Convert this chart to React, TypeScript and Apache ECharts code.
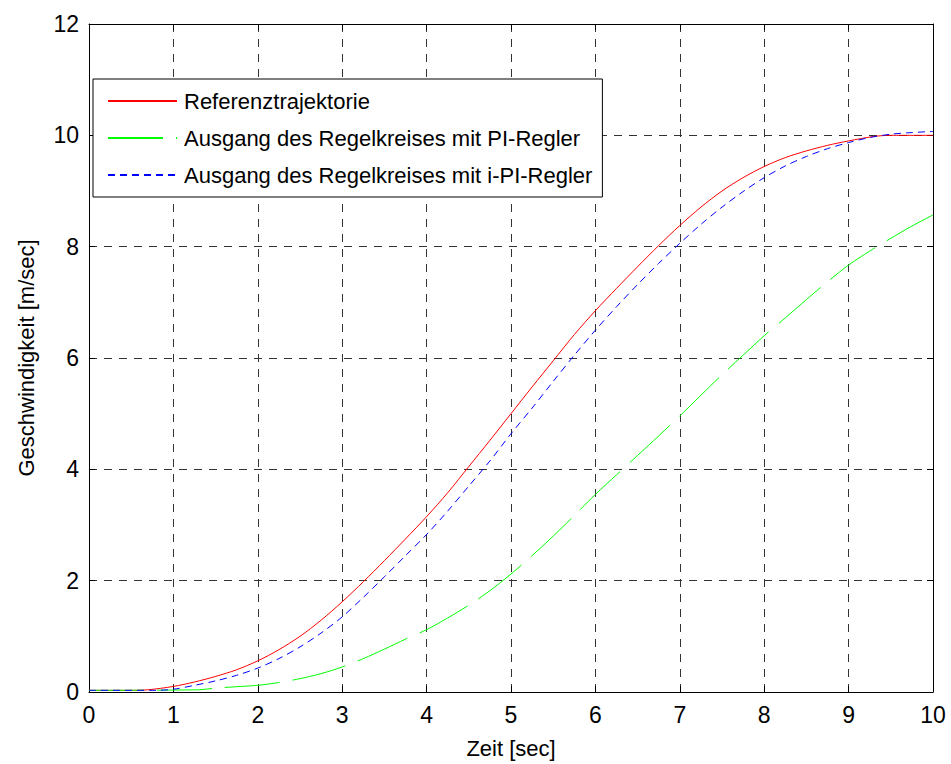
import React, { useEffect, useRef } from "react";
import * as echarts from "echarts";

const refT = [0, 0.5, 0.7, 1, 1.25, 1.5, 1.75, 2, 2.25, 2.5, 2.75, 3, 3.25, 3.5, 3.75, 4, 4.25, 4.5, 4.75, 5, 5.25, 5.5, 5.75, 6, 6.25, 6.5, 6.75, 7, 7.25, 7.5, 7.75, 8, 8.25, 8.5, 8.75, 9, 9.3, 9.5, 10];
const refV = [0.03, 0.03, 0.04, 0.1, 0.18, 0.28, 0.4, 0.56, 0.76, 1.0, 1.29, 1.62, 1.98, 2.36, 2.75, 3.15, 3.58, 4.05, 4.52, 5.0, 5.48, 5.95, 6.42, 6.85, 7.25, 7.64, 8.02, 8.38, 8.71, 9.0, 9.24, 9.44, 9.6, 9.72, 9.82, 9.9, 9.98, 10, 10];

const piT = [0, 1.3, 1.5, 1.8, 2, 2.25, 2.5, 2.75, 3, 3.25, 3.5, 3.75, 4, 4.25, 4.5, 4.75, 5, 5.25, 5.5, 5.75, 6, 6.25, 6.5, 6.75, 7, 7.25, 7.5, 7.75, 8, 8.25, 8.5, 8.75, 9, 9.25, 9.5, 9.75, 10];
const piV = [0.03, 0.04, 0.07, 0.1, 0.12, 0.17, 0.24, 0.33, 0.45, 0.6, 0.77, 0.95, 1.12, 1.33, 1.56, 1.82, 2.12, 2.45, 2.8, 3.17, 3.55, 3.9, 4.25, 4.6, 4.96, 5.33, 5.7, 6.05, 6.4, 6.72, 7.05, 7.37, 7.67, 7.92, 8.15, 8.37, 8.57];

const ipiT = [0, 0.8, 1, 1.25, 1.5, 1.75, 2, 2.25, 2.5, 2.75, 3, 3.25, 3.5, 3.75, 4, 4.25, 4.5, 4.75, 5, 5.25, 5.5, 5.75, 6, 6.25, 6.5, 6.75, 7, 7.25, 7.5, 7.75, 8, 8.25, 8.5, 8.75, 9, 9.25, 9.5, 9.75, 10];
const ipiV = [0.03, 0.03, 0.05, 0.12, 0.2, 0.3, 0.43, 0.6, 0.81, 1.06, 1.35, 1.7, 2.07, 2.45, 2.83, 3.25, 3.7, 4.15, 4.64, 5.1, 5.58, 6.05, 6.5, 6.92, 7.32, 7.7, 8.06, 8.4, 8.71, 8.99, 9.24, 9.45, 9.62, 9.76, 9.87, 9.96, 10.02, 10.05, 10.07];

const seriesNames = [
  "Referenztrajektorie",
  "Ausgang des Regelkreises mit PI-Regler",
  "Ausgang des Regelkreises mit i-PI-Regler",
];

const pairs = (t: number[], v: number[]) => t.map((x, i) => [x, v[i]]);

const FONT = "Liberation Sans, Arial, sans-serif";

export default function App() {
  const ref = useRef<HTMLDivElement>(null);
  useEffect(() => {
    if (!ref.current) return;
    const chart = echarts.init(ref.current, null, { renderer: "svg" });
    const gridLine = { show: true, lineStyle: { color: "#333", width: 1, type: [8, 7] } };
    const axisLine = { show: true, onZero: false, lineStyle: { color: "#000", width: 1 } };
    const tick = { show: true, inside: true, length: 6, lineStyle: { color: "#000" } };
    chart.setOption({
      animation: false,
      backgroundColor: "#fff",
      textStyle: { fontFamily: FONT },
      grid: { left: 89, top: 24, right: 18, bottom: 68, show: false },
      legend: {
        show: true,
        orient: "vertical",
        left: 93,
        top: 79,
        padding: [11, 10, 11, 14],
        itemGap: 15,
        itemWidth: 69,
        itemHeight: 10,
        backgroundColor: "#fff",
        borderColor: "#000",
        borderWidth: 1,
        borderRadius: 0,
        itemStyle: { opacity: 0 },
        textStyle: { fontFamily: FONT, fontSize: 22, color: "#000", padding: [0, 0, 0, 2] },
        data: seriesNames,
      },
      xAxis: [
        {
          type: "value",
          min: 0,
          max: 10,
          interval: 1,
          position: "bottom",
          axisLine,
          axisTick: tick,
          axisLabel: { fontFamily: FONT, fontSize: 23, color: "#000", margin: 11 },
          splitLine: gridLine,
          name: "Zeit [sec]",
          nameLocation: "middle",
          nameGap: 45,
          nameTextStyle: { fontFamily: FONT, fontSize: 22, color: "#000" },
        },
        {
          type: "value",
          min: 0,
          max: 10,
          interval: 1,
          position: "top",
          axisLine,
          axisTick: tick,
          axisLabel: { show: false },
          splitLine: { show: false },
        },
      ],
      yAxis: [
        {
          type: "value",
          min: 0,
          max: 12,
          interval: 2,
          position: "left",
          axisLine,
          axisTick: tick,
          axisLabel: { fontFamily: FONT, fontSize: 23, color: "#000", margin: 10 },
          splitLine: gridLine,
          name: "Geschwindigkeit [m/sec]",
          nameLocation: "middle",
          nameGap: 52,
          nameTextStyle: { fontFamily: FONT, fontSize: 22, color: "#000" },
        },
        {
          type: "value",
          min: 0,
          max: 12,
          interval: 2,
          position: "right",
          axisLine,
          axisTick: tick,
          axisLabel: { show: false },
          splitLine: { show: false },
        },
      ],
      series: [
        {
          name: seriesNames[0],
          type: "line",
          data: pairs(refT, refV),
          smooth: 0.3,
          showSymbol: false,
          symbol: "none",
          color: "#ff0000",
          lineStyle: { color: "#ff0000", width: 1 },
          z: 3,
        },
        {
          name: seriesNames[1],
          type: "line",
          data: pairs(piT, piV),
          smooth: 0.3,
          showSymbol: false,
          symbol: "none",
          color: "#00ff00",
          lineStyle: { color: "#00ff00", width: 1, type: [55, 13] },
          z: 3,
        },
        {
          name: seriesNames[2],
          type: "line",
          data: pairs(ipiT, ipiV),
          smooth: 0.3,
          showSymbol: false,
          symbol: "none",
          color: "#0000ff",
          lineStyle: { color: "#0000ff", width: 1, type: [7, 5] },
          z: 3,
        },
      ],
    });
    return () => chart.dispose();
  }, []);
  return (
    <div
      ref={ref}
      style={{ position: "absolute", left: 0, top: 0, width: 951, height: 764, background: "#fff" }}
    />
  );
}
